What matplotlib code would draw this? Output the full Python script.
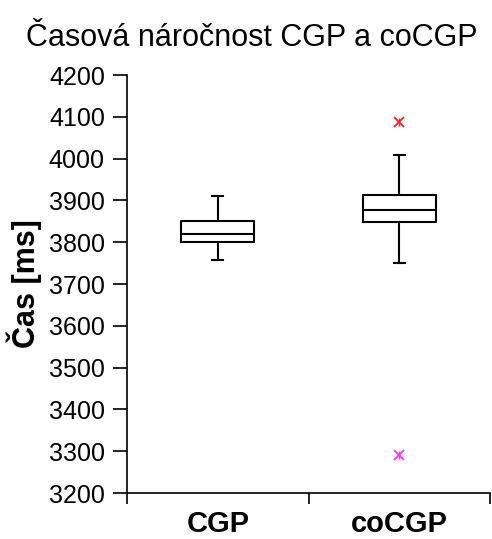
import matplotlib
matplotlib.use("Agg")
import matplotlib.pyplot as plt

plt.rcParams['font.family'] = ['Liberation Sans', 'DejaVu Sans']

categories = ["CGP", "coCGP"]
whisker_low = [3757, 3750]
q1 = [3800, 3848]
median = [3820, 3877]
q3 = [3851, 3913]
whisker_high = [3910, 4009]
outliers_high = [None, 4088]
outliers_low = [None, 3290]

stats = []
for i, name in enumerate(categories):
    stats.append({
        "label": name,
        "whislo": whisker_low[i],
        "q1": q1[i],
        "med": median[i],
        "q3": q3[i],
        "whishi": whisker_high[i],
        "fliers": [],
    })

fig = plt.figure(figsize=(4.92, 5.39), dpi=100)
ax = fig.add_axes([127 / 492, 1 - 493 / 539, 363 / 492, 418 / 539])

positions = [0.5, 1.5]
ax.bxp(stats, positions=positions, widths=0.4, capwidths=0.06,
       boxprops=dict(color="black", linewidth=1.5),
       medianprops=dict(color="black", linewidth=1.5),
       whiskerprops=dict(color="black", linewidth=1.5),
       capprops=dict(color="black", linewidth=1.5),
       showfliers=False, manage_ticks=False)

# Excel-style star markers: an x with a short vertical stroke
def star(x, y, color):
    ax.plot(x, y, marker="x", color=color, markersize=7,
            markeredgewidth=1.3, linestyle="none")
    ax.plot(x, y, marker="|", color=color, markersize=6,
            markeredgewidth=1.0, linestyle="none")

for i, pos in enumerate(positions):
    if outliers_high[i] is not None:
        star(pos, outliers_high[i], "#ff2020")
    if outliers_low[i] is not None:
        star(pos, outliers_low[i], "#ff33ff")

ax.set_xlim(0, 2)
ax.set_ylim(3200, 4200)
ax.set_yticks(range(3200, 4201, 100))
ax.set_xticks([0, 1, 2])
ax.set_xticklabels([])
ax.set_xticks(positions, minor=True)
ax.set_xticklabels(categories, minor=True, fontsize=21, fontweight="bold")
ax.tick_params(axis="x", which="minor", length=0, pad=12)
ax.tick_params(axis="x", which="major", direction="out", length=8, width=1.2)
ax.tick_params(axis="y", direction="out", length=10, width=1.2, labelsize=18, pad=6)

for side in ["top", "right"]:
    ax.spines[side].set_visible(False)
for side in ["left", "bottom"]:
    ax.spines[side].set_linewidth(1.2)

ax.set_ylabel("Čas [ms]", fontsize=22, fontweight="bold")
ax.yaxis.set_label_coords(-0.234, 0.502)
fig.text(252 / 492, 1 - 38 / 539, "Časová náročnost CGP a coCGP",
         fontsize=22, ha="center", va="center")

fig.savefig("out.png", dpi=100, facecolor="white")
